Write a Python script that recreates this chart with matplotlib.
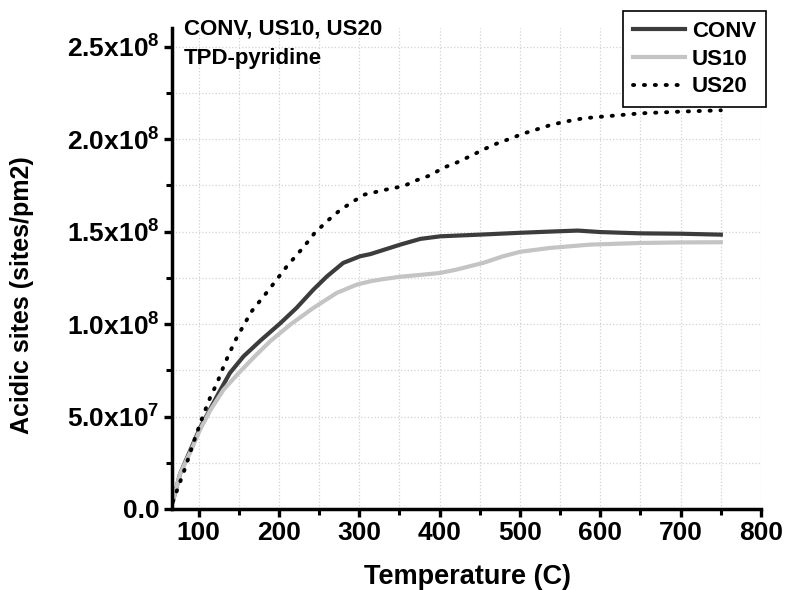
import numpy as np
import matplotlib
matplotlib.use("Agg")
import matplotlib.pyplot as plt
from matplotlib.ticker import MultipleLocator, FuncFormatter

plt.rcParams['font.family'] = ['Liberation Sans', 'DejaVu Sans']
plt.rcParams['font.weight'] = 'bold'
plt.rcParams['mathtext.fontset'] = 'custom'
plt.rcParams['mathtext.rm'] = 'Liberation Sans:bold'
plt.rcParams['mathtext.bf'] = 'Liberation Sans:bold'
plt.rcParams['mathtext.default'] = 'bf'

# Data, y in units of 1e8 sites/pm2
conv_t = [68, 77, 90, 102, 112, 125, 139, 156, 177, 202, 222, 243, 260, 280, 301, 314,
          351, 376, 401, 450, 500, 546, 572, 600, 650, 700, 750]
conv_y = [0.04, 0.19, 0.32, 0.44, 0.52, 0.626, 0.735, 0.825, 0.91, 1.005, 1.087, 1.186, 1.258, 1.33,
          1.366, 1.378, 1.429, 1.46, 1.474, 1.483, 1.493, 1.501, 1.505, 1.497, 1.49, 1.488, 1.483]

us10_t = [68, 77, 90, 102, 115, 131, 150, 170, 189, 214, 243, 272, 297, 314, 326, 350,
          375, 401, 421, 454, 479, 500, 537, 587, 650, 700, 750]
us10_y = [0.04, 0.19, 0.31, 0.43, 0.536, 0.644, 0.735, 0.825, 0.906, 0.996, 1.087, 1.168, 1.213,
          1.231, 1.24, 1.255, 1.265, 1.276, 1.294, 1.33, 1.366, 1.39, 1.411, 1.429, 1.438, 1.441, 1.442]

us20_t = [68, 75, 84, 92, 100, 106, 115, 123, 133, 143, 148, 166, 185, 198, 210, 231, 244,
          260, 276, 293, 307, 338, 355, 372, 388, 405, 421, 438, 455, 471, 488, 504, 521,
          537, 554, 579, 600, 651, 700, 750]
us20_y = [0.04, 0.121, 0.229, 0.337, 0.437, 0.509, 0.608, 0.68, 0.79, 0.885, 0.93, 1.068, 1.171,
          1.244, 1.312, 1.417, 1.489, 1.556, 1.615, 1.664, 1.70, 1.731, 1.745, 1.778, 1.803, 1.845,
          1.872, 1.907, 1.944, 1.975, 2.002, 2.029, 2.052, 2.074, 2.092, 2.112, 2.12, 2.139, 2.148,
          2.155]

scale = 1e8

fig = plt.figure(figsize=(7.88, 5.90), dpi=100)
ax = fig.add_axes([172 / 788, 1 - 509 / 590, (761 - 172) / 788, (509 - 28) / 590])

ax.plot(conv_t, np.array(conv_y) * scale, color='#3c3c3c', lw=3, label='CONV')
ax.plot(us10_t, np.array(us10_y) * scale, color='#c4c4c4', lw=3, label='US10')
ax.plot(us20_t, np.array(us20_y) * scale, color='black', lw=2.8,
        linestyle=(0, (0.3, 2.5)), dash_capstyle='round', label='US20')

ax.set_xlim(67, 800)
ax.set_ylim(0, 2.6e8)

ax.xaxis.set_major_locator(MultipleLocator(100))
ax.xaxis.set_minor_locator(MultipleLocator(50))
ax.yaxis.set_major_locator(MultipleLocator(0.5e8))
ax.yaxis.set_minor_locator(MultipleLocator(0.25e8))


def sci_fmt(v, pos):
    if v == 0:
        return '0.0'
    e = int(np.floor(np.log10(abs(v)) + 1e-9))
    m = v / 10 ** e
    return f'{m:.1f}x10$^{{{e}}}$'


ax.yaxis.set_major_formatter(FuncFormatter(sci_fmt))

ax.grid(True, which='both', color='#d2d2d2', linestyle=':', lw=0.9)
ax.set_axisbelow(True)

for s in ['top', 'right']:
    ax.spines[s].set_visible(False)
for s in ['left', 'bottom']:
    ax.spines[s].set_linewidth(2.5)

ax.tick_params(which='major', direction='out', length=6, width=2.4, labelsize=19, pad=3)
ax.tick_params(which='minor', direction='out', length=4, width=2.2)
for lab in ax.get_xticklabels() + ax.get_yticklabels():
    lab.set_fontweight('bold')

ax.set_xlabel('Temperature (C)', fontsize=19.5, fontweight='bold')
ax.set_ylabel('Acidic sites (sites/pm2)', fontsize=18, fontweight='bold')
ax.xaxis.set_label_coords((467.5 - 172) / 589, (509 - 564) / 481)
ax.yaxis.set_label_coords((34 - 172) / 589, (509 - 295) / 481)

fig.text(184 / 788, 1 - 35 / 590, 'CONV, US10, US20', fontsize=16, fontweight='bold',
         va='baseline', ha='left')
fig.text(184 / 788, 1 - 64 / 590, 'TPD-pyridine', fontsize=16, fontweight='bold',
         va='baseline', ha='left')

leg = ax.legend(loc='upper right', bbox_to_anchor=(766 / 788, 1 - 11 / 590),
                bbox_transform=fig.transFigure, borderaxespad=0, fancybox=False,
                edgecolor='black', framealpha=1, prop={'weight': 'bold', 'size': 16},
                handlelength=2.35, handletextpad=0.3, labelspacing=0.3, borderpad=0.45)
leg.get_frame().set_linewidth(1.2)

fig.savefig('out.png', dpi=100)
